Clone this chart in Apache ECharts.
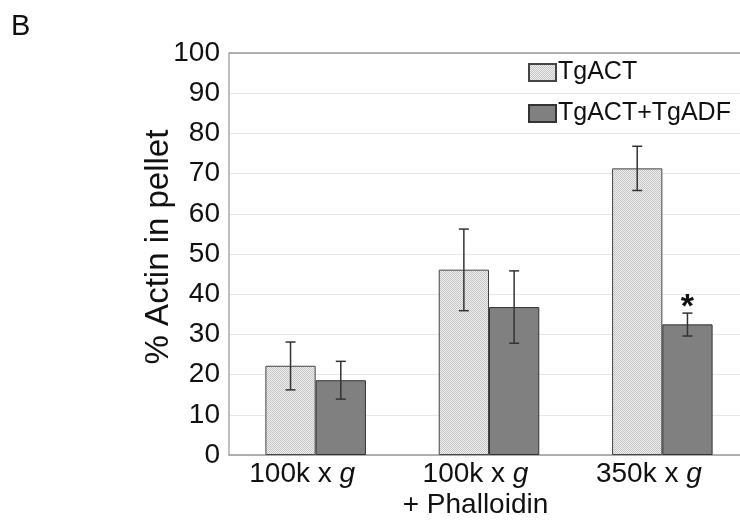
<!DOCTYPE html>
<html>
<head>
<meta charset="utf-8">
<script src="https://cdn.jsdelivr.net/npm/echarts@6/dist/echarts.min.js"></script>
<style>
	html, body { margin: 0; padding: 0; background: #fff; }
	#chart { width: 740px; height: 527px; }
</style>
</head>
<body>
<div id="chart"></div>
<script>
// data
var categories = ['100k x g', '100k x g\n+ Phalloidin', '350k x g'];
var seriesNames = ['TgACT', 'TgACT+TgADF'];
var actValues = [22.2, 46.1, 71.3];
var actErrLow = [16.2, 35.9, 65.8];
var actErrHigh = [28.1, 56.2, 76.8];
var adfValues = [18.6, 36.8, 32.5];
var adfErrLow = [13.9, 27.8, 29.6];
var adfErrHigh = [23.3, 45.8, 35.3];
var adfSignificant = [0, 0, 1];
var yTicks = [0, 10, 20, 30, 40, 50, 60, 70, 80, 90, 100];
var yTitle = '% Actin in pellet';

var FONT = '"Liberation Sans", Arial, sans-serif';

// light dotted texture for TgACT bars
function makePattern() {
	var c = document.createElement('canvas');
	c.width = 4; c.height = 4;
	var ctx = c.getContext('2d');
	ctx.fillStyle = '#f0f0f0';
	ctx.fillRect(0, 0, 4, 4);
	ctx.fillStyle = '#c4c4c4';
	for (var y = 0; y < 4; y++) {
		for (var x = 0; x < 4; x++) {
			if ((x + y) % 2 === 0) ctx.fillRect(x, y, 1, 1);
		}
	}
	return c;
}
var actFill = { image: makePattern(), repeat: 'repeat' };

var chart = echarts.init(document.getElementById('chart'), null, { renderer: 'canvas' });

var barGapRatio = 0.42;

function errorRender(seriesIdx, low, high, sig) {
	return function (params, api) {
		var i = api.value(0);
		var center = api.coord([i, 0]);
		var catW = api.size([1, 0])[0];
		var bw = catW * (1 - barGapRatio) / 2;
		var x = center[0] + (seriesIdx === 0 ? -bw / 2 : bw / 2);
		var yl = api.coord([i, low[i]])[1];
		var yh = api.coord([i, high[i]])[1];
		var cap = 5;
		var style = { stroke: '#333', lineWidth: 1.5 };
		var children = [
			{ type: 'line', shape: { x1: x, y1: yl, x2: x, y2: yh }, style: style },
			{ type: 'line', shape: { x1: x - cap, y1: yh, x2: x + cap, y2: yh }, style: style },
			{ type: 'line', shape: { x1: x - cap, y1: yl, x2: x + cap, y2: yl }, style: style }
		];
		if (sig && sig[i]) {
			children.push({
				type: 'text',
				style: {
					text: '*', x: x, y: yh + 12, align: 'center', verticalAlign: 'bottom',
					font: 'bold 34px ' + FONT, fill: '#111'
				}
			});
		}
		return { type: 'group', children: children };
	};
}

var option = {
	backgroundColor: '#fff',
	animation: false,
	title: {
		text: 'B', left: 6, top: 7,
		textStyle: { fontFamily: FONT, fontSize: 29, fontWeight: 'normal', color: '#111' }
	},
	legend: {
		orient: 'vertical', left: 523, top: 55,
		itemWidth: 27, itemHeight: 17, itemGap: 16,
		icon: 'rect',
		data: seriesNames,
		textStyle: { fontFamily: FONT, fontSize: 25, color: '#111', padding: [0, 0, 0, -3] }
	},
	grid: { left: 229, right: -9, top: 53, bottom: 72, outerBoundsMode: 'none', containLabel: false },
	xAxis: {
		type: 'category',
		data: categories,
		axisLine: { lineStyle: { color: '#999', width: 1.5 } },
		axisTick: { show: false },
		axisLabel: {
			interval: 0,
			fontFamily: FONT, fontSize: 28, color: '#111', margin: 4, lineHeight: 31,
			padding: [0, 27, 0, 0],
			formatter: function (v) {
				return v.split('\n').map(function (line) {
					return line.replace(/ g$/, ' {i|g}');
				}).join('\n');
			},
			rich: { i: { fontStyle: 'italic', fontFamily: FONT, fontSize: 28, color: '#111' } }
		}
	},
	yAxis: {
		type: 'value',
		min: yTicks[0], max: yTicks[yTicks.length - 1], interval: 10,
		axisLine: { show: true, lineStyle: { color: '#aaa', width: 1.5 } },
		axisTick: { show: false },
		axisLabel: { fontFamily: FONT, fontSize: 28, color: '#111', margin: 9 },
		splitLine: { lineStyle: { color: '#e8e8e8' } }
	},
	series: [
		{
			name: seriesNames[0], type: 'bar', data: actValues,
			barGap: '0%', barCategoryGap: (barGapRatio * 100) + '%',
			itemStyle: { color: actFill, borderColor: '#444', borderWidth: 1 }
		},
		{
			name: seriesNames[1], type: 'bar', data: adfValues,
			itemStyle: { color: '#808080', borderColor: '#333', borderWidth: 1 }
		},
		{
			type: 'custom', data: [0, 1, 2], z: 10, silent: true,
			renderItem: errorRender(0, actErrLow, actErrHigh, null)
		},
		{
			type: 'custom', data: [0, 1, 2], z: 10, silent: true,
			renderItem: errorRender(1, adfErrLow, adfErrHigh, adfSignificant)
		}
	],
	graphic: [
		{ type: 'line', shape: { x1: 229, y1: 53, x2: 740, y2: 53 }, style: { stroke: '#999', lineWidth: 1.5 }, z: 5 },
		// y axis title
		{
			type: 'text', x: 159, y: 247, rotation: Math.PI / 2,
			style: { text: yTitle, font: '33px ' + FONT, fill: '#111', align: 'center', verticalAlign: 'middle' }
		}
	]
};

chart.setOption(option);

window.onresize = function () {
	setTimeout(function () { chart.resize(); }, 200);
};
</script>
</body>
</html>
